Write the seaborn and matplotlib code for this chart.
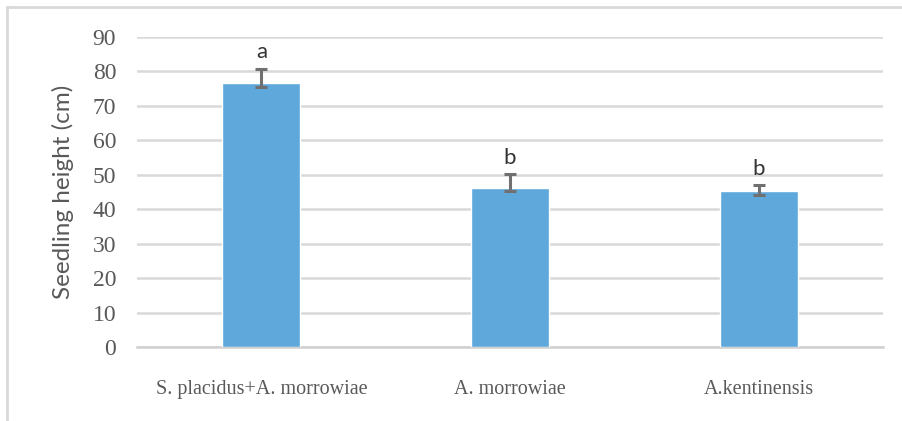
import matplotlib
matplotlib.use("Agg")
import matplotlib.pyplot as plt
from matplotlib.lines import Line2D
import seaborn as sns
import pandas as pd

treatments = ["S. placidus+A. morrowiae", "A. morrowiae", "A.kentinensis"]
heights = [76.6, 46.2, 45.2]
err_up = [4.2, 4.1, 1.7]
err_down = [1.1, 0.9, 1.1]
letters = ["a", "b", "b"]

df = pd.DataFrame({"treatment": treatments, "height": heights})

sns.set_style("white")
fig = plt.figure(figsize=(9.02, 4.21), dpi=100)
ax = fig.add_axes([137 / 902, 1 - 347 / 421, (883 - 137) / 902, (347 - 37) / 421])

sns.barplot(data=df, x="treatment", y="height", color="#5fa8dc", width=0.313,
            errorbar=None, saturation=1, ax=ax, zorder=3)
ax.errorbar(range(len(heights)), heights, yerr=[err_down, err_up], fmt="none",
            ecolor="#707070", elinewidth=2.2, capsize=4.5, capthick=2.2, zorder=4)

for i, (h, e, l) in enumerate(zip(heights, err_up, letters)):
    ax.text(i, h + e + 1.8, l, ha="center", va="bottom", fontsize=16,
            family="Lato", color="#333333")

ax.set_ylim(0, 90)
ax.set_xlim(-0.5, 2.5)
ax.set_yticks(range(0, 91, 10))
ax.yaxis.grid(True, color="#d9d9d9", linewidth=1.8, zorder=0)
ax.set_axisbelow(True)
for s in ["top", "right", "left"]:
    ax.spines[s].set_visible(False)
ax.spines["bottom"].set_color("#d0d0d0")
ax.spines["bottom"].set_linewidth(1.8)
ax.tick_params(axis="both", length=0, colors="#595959")
ax.tick_params(axis="y", pad=15)
ax.tick_params(axis="x", pad=24)
for t in ax.get_yticklabels():
    t.set_fontfamily("Liberation Serif")
    t.set_fontsize(17)
for t in ax.get_xticklabels():
    t.set_fontfamily("Liberation Serif")
    t.set_fontsize(14.5)
ax.set_xlabel("")
ax.set_ylabel("Seedling height (cm)", family="Lato", fontsize=17.5, color="#595959", labelpad=13)

fig.add_artist(Line2D([7 / 902, 7 / 902], [0, 1 - 7 / 421], color="#d9d9d9", linewidth=2))
fig.add_artist(Line2D([7 / 902, 1], [1 - 7 / 421, 1 - 7 / 421], color="#d9d9d9", linewidth=2))

fig.savefig("out.png", dpi=100)
